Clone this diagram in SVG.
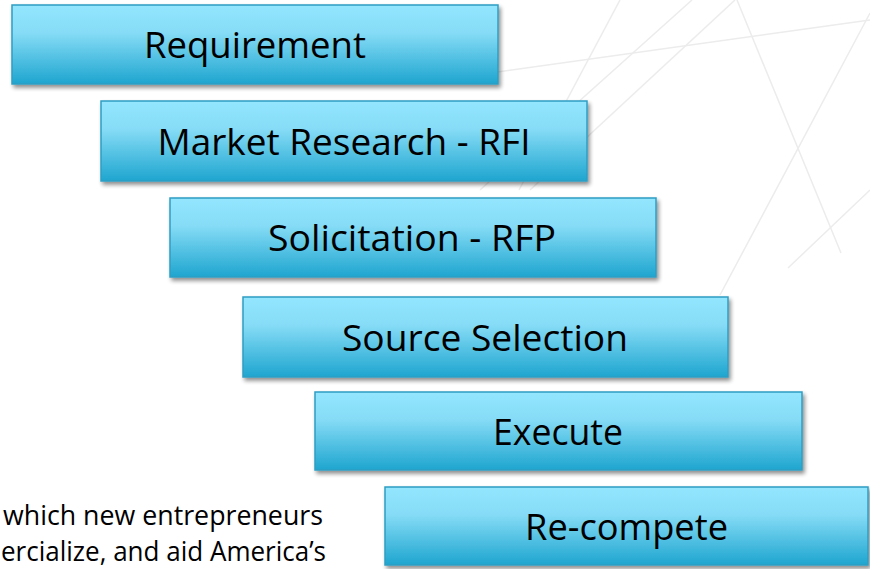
<svg xmlns="http://www.w3.org/2000/svg" width="870" height="569" viewBox="0 0 870 569">
  <defs>
    <linearGradient id="boxGrad" x1="0" y1="0" x2="0" y2="1">
      <stop offset="0" stop-color="#93e6fe"/>
      <stop offset="0.35" stop-color="#86dcf6"/>
      <stop offset="1" stop-color="#1ea5cf"/>
    </linearGradient>
    <filter id="shadow" x="-5%" y="-10%" width="112%" height="130%">
      <feGaussianBlur in="SourceAlpha" stdDeviation="2"/>
      <feOffset dx="2" dy="3" result="b"/>
      <feComponentTransfer><feFuncA type="linear" slope="0.45"/></feComponentTransfer>
      <feMerge><feMergeNode/><feMergeNode in="SourceGraphic"/></feMerge>
    </filter>
  </defs>
  <style>
    .bg { stroke: #ececec; stroke-width: 1.5; fill: none; }
    .box { fill: url(#boxGrad); stroke: #2e9ec3; stroke-width: 1.5; filter: url(#shadow); }
    .label { font-family: "Open Sans", "Noto Sans", "Liberation Sans", sans-serif; font-size: 36px; fill: #000; text-anchor: middle; }
    .body { font-family: "Open Sans", "Noto Sans", "Liberation Sans", sans-serif; font-size: 26.5px; fill: #000; }
  </style>
  <rect width="870" height="569" fill="#ffffff"/>
  <g id="background">
    <line class="bg" x1="490" y1="73" x2="870" y2="20"/>
    <line class="bg" x1="620" y1="0" x2="519" y2="190"/>
    <line class="bg" x1="692" y1="0" x2="480" y2="190"/>
    <line class="bg" x1="735" y1="0" x2="530" y2="190"/>
    <line class="bg" x1="737" y1="0" x2="841" y2="253"/>
    <line class="bg" x1="870" y1="13" x2="720" y2="295"/>
    <line class="bg" x1="870" y1="190" x2="788" y2="268"/>
  </g>
  <g id="connectors"/>
  <g id="node-requirement">
    <rect class="box" x="12" y="5" width="486" height="79"/>
    <text class="label" x="255" y="58" textLength="222" lengthAdjust="spacingAndGlyphs">Requirement</text>
  </g>
  <g id="node-market-research">
    <rect class="box" x="101" y="101" width="486" height="80"/>
    <text class="label" x="344" y="155" textLength="373" lengthAdjust="spacingAndGlyphs">Market Research - RFI</text>
  </g>
  <g id="node-solicitation">
    <rect class="box" x="170" y="198" width="486" height="79"/>
    <text class="label" x="412" y="251" textLength="288" lengthAdjust="spacingAndGlyphs">Solicitation - RFP</text>
  </g>
  <g id="node-source-selection">
    <rect class="box" x="243" y="297" width="485" height="80"/>
    <text class="label" x="485" y="351" textLength="286" lengthAdjust="spacingAndGlyphs">Source Selection</text>
  </g>
  <g id="node-execute">
    <rect class="box" x="315" y="392" width="487" height="78"/>
    <text class="label" x="558" y="445" textLength="130" lengthAdjust="spacingAndGlyphs">Execute</text>
  </g>
  <g id="node-recompete">
    <rect class="box" x="385" y="487" width="483" height="78"/>
    <text class="label" x="626.5" y="540" textLength="203" lengthAdjust="spacingAndGlyphs">Re-compete</text>
  </g>
  <g id="body-text">
    <text class="body" x="3" y="525" textLength="320" lengthAdjust="spacingAndGlyphs">which new entrepreneurs</text>
    <text class="body" x="1" y="561" textLength="325" lengthAdjust="spacingAndGlyphs">ercialize, and aid America’s</text>
  </g>
</svg>
